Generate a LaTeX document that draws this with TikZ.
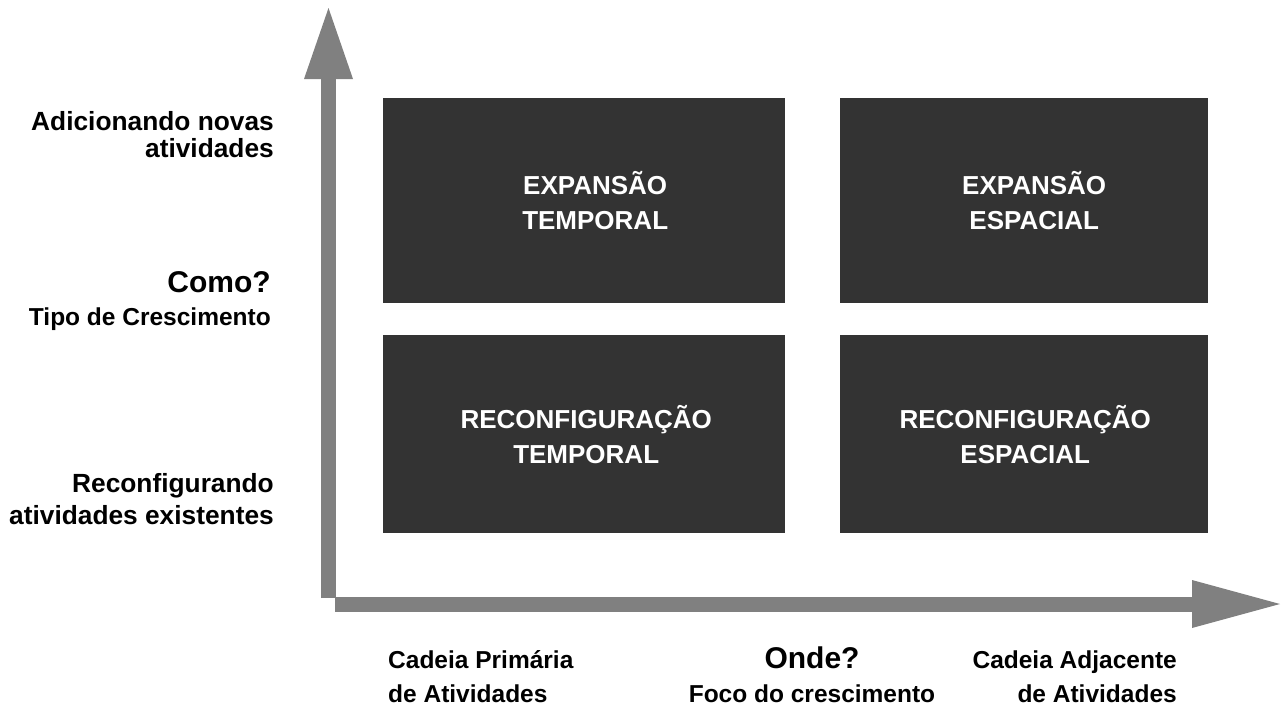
\documentclass[tikz,border=0pt]{standalone}
\usepackage{fontspec}
\setmainfont{Liberation Sans}
\usetikzlibrary{positioning, arrows.meta}
\tikzstyle{plane} = [x = 1pt, y = -1pt]
\definecolor{axisColor}{RGB}{128,128,128}
\definecolor{quadrantColor}{RGB}{51,51,51}
\tikzstyle{axisStyle} = [draw=axisColor, line width = 15pt]
\tikzstyle{quadrantStyle} = [fill=quadrantColor, anchor=north west, inner sep=0pt]
\tikzstyle{quadrantText} = [text=white, align=center, font=\bfseries\fontsize{26}{35}\selectfont]
\tikzstyle{sideText} = [inner sep=0pt, font=\bfseries\fontsize{24.5}{27}\selectfont]
\tikzstyle{levelText} = [inner sep=0pt, font=\bfseries\fontsize{26.3}{29}\selectfont]
\tikzstyle{bigText} = [inner sep=0pt, font=\bfseries\fontsize{30}{34}\selectfont]
\newcommand{\quadrant}[5]{\node [quadrantStyle, minimum width=#3pt, minimum height=#4pt] (#5) at (#1,#2) {};}

\begin{document}
\begin{tikzpicture}[plane]
  \useasboundingbox (0,0) rectangle (1281,713);
  % axes
  \draw [axisStyle, -{Triangle[width=49pt, length=71pt, line width=0pt 0]}] (328.5,598) -- (328.5,8);
  \draw [axisStyle, -{Triangle[width=48pt, length=88pt, line width=0pt 0]}] (335,604) -- (1280,604);
  % quadrants
  \quadrant{383}{98}{402}{205}{expTemp}
  \quadrant{840}{98}{368}{205}{expEsp}
  \quadrant{383}{335}{402}{198}{recTemp}
  \quadrant{840}{335}{368}{198}{recEsp}
  \node [quadrantText, xshift=11pt] (expTempText) at (expTemp) {EXPANSÃO\\TEMPORAL};
  \node [quadrantText, xshift=10pt] (expEspText) at (expEsp) {EXPANSÃO\\ESPACIAL};
  \node [quadrantText, xshift=2pt] (recTempText) at (recTemp) {RECONFIGURAÇÃO\\TEMPORAL};
  \node [quadrantText, xshift=1pt] (recEspText) at (recEsp) {RECONFIGURAÇÃO\\ESPACIAL};
  % vertical axis labels
  \node [levelText, anchor=base east] (addFirst) at (274,130) {Adicionando novas};
  \node [levelText, anchor=base east] (addSecond) at (274,157) {atividades};
  \node [bigText, anchor=base east] (como) at (271,292) {Como?};
  \node [sideText, anchor=base east] (tipo) at (271,325) {Tipo de Crescimento};
  \node [levelText, anchor=base east] (reconfFirst) at (274,492) {Reconfigurando};
  \node [levelText, anchor=base east] (reconfSecond) at (274,524) {atividades existentes};
  % horizontal axis labels
  \node [sideText, anchor=base west] (primFirst) at (388,668) {Cadeia Primária};
  \node [sideText, anchor=base west] (primSecond) at (388,702) {de Atividades};
  \node [bigText, anchor=base] (onde) at (812,668) {Onde?};
  \node [sideText, anchor=base] (foco) at (812,702) {Foco do crescimento};
  \node [sideText, anchor=base east] (adjFirst) at (1177,668) {Cadeia Adjacente};
  \node [sideText, anchor=base east] (adjSecond) at (1177,702) {de Atividades};
\end{tikzpicture}
\end{document}
